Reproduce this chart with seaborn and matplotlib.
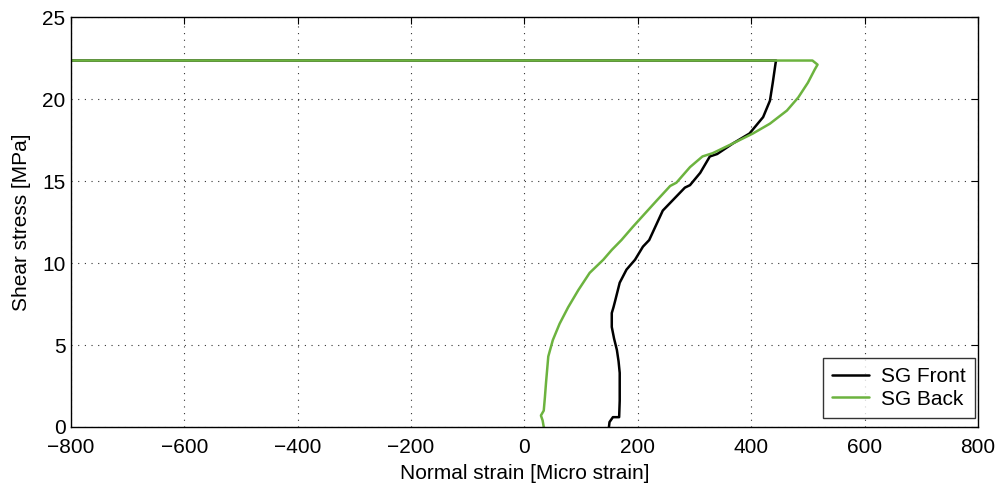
import matplotlib
matplotlib.use("Agg")
import matplotlib.pyplot as plt
import seaborn as sns
import pandas as pd

front_x = [149, 150, 156, 167, 168, 168, 168, 166, 163, 158, 154, 154, 157, 160, 168, 180, 195, 209, 220, 244, 283, 292,
           310, 327, 340, 368, 397, 421, 433, 438, 443, 444, -820]
front_y = [0.0, 0.3, 0.6, 0.6, 1.6, 2.5, 3.3, 4.0, 4.7, 5.4, 6.1, 6.95, 7.3, 7.7, 8.8, 9.6, 10.2, 11.0, 11.4, 13.2, 14.6, 14.75,
           15.5, 16.5, 16.65, 17.3, 17.9, 18.9, 19.9, 21.0, 22.2, 22.35, 22.35]

back_x = [34, 32, 29, 34, 36, 38, 42, 50, 62, 77, 95, 115, 139, 154, 171, 191, 233, 257, 268, 292, 314, 332,
          368, 403, 433, 463, 483, 500, 512, 517, 508, -820]
back_y = [0.0, 0.4, 0.7, 1.0, 1.8, 2.7, 4.3, 5.3, 6.3, 7.3, 8.35, 9.4, 10.2, 10.8, 11.4, 12.2, 13.8, 14.7, 14.9,
          15.85, 16.5, 16.7, 17.3, 17.9, 18.5, 19.3, 20.1, 21.0, 21.8, 22.1, 22.35, 22.35]

sns.set_style("white")
plt.rcParams['font.family'] = ['Liberation Sans', 'DejaVu Sans']
plt.rcParams['text.color'] = 'black'
plt.rcParams['axes.labelcolor'] = 'black'
plt.rcParams['xtick.color'] = 'black'
plt.rcParams['ytick.color'] = 'black'

fig = plt.figure(figsize=(10.01, 4.88), dpi=100)
ax = fig.add_axes([0.0709, 0.125, 0.9061, 0.840])

df_f = pd.DataFrame({"x": front_x, "y": front_y})
df_b = pd.DataFrame({"x": back_x, "y": back_y})
sns.lineplot(data=df_f, x="x", y="y", sort=False, estimator=None, color="black", lw=1.8, label="SG Front", ax=ax)
sns.lineplot(data=df_b, x="x", y="y", sort=False, estimator=None, color="#6cb33f", lw=1.8, label="SG Back", ax=ax)

ax.set_xlim(-800, 800)
ax.set_ylim(0, 25)
ax.set_xticks(range(-800, 801, 200))
ax.set_yticks(range(0, 26, 5))
ax.grid(True, linestyle=(0, (1, 5)), color="black", linewidth=0.8, alpha=0.8)
ax.tick_params(direction="in", length=5, labelsize=15, top=True, right=True, colors="black")
ax.tick_params(axis="x", pad=8)
ax.tick_params(axis="y", pad=4)
for s in ax.spines.values():
    s.set_color("black")
    s.set_linewidth(1.0)
ax.set_xlabel("Normal strain [Micro strain]", fontsize=15, labelpad=5, color="black")
ax.set_ylabel("Shear stress [MPa]", fontsize=15, labelpad=8, color="black")
leg = ax.legend(loc="lower right", bbox_to_anchor=(0.9967, 0.022), fontsize=15, frameon=True, fancybox=False,
                borderaxespad=0, handlelength=1.8, borderpad=0.45, labelspacing=0.15, handletextpad=0.55)
leg.get_frame().set_edgecolor("black")
leg.get_frame().set_linewidth(1.0)
for t in leg.get_texts():
    t.set_color("black")

fig.savefig("out.png", dpi=100)
